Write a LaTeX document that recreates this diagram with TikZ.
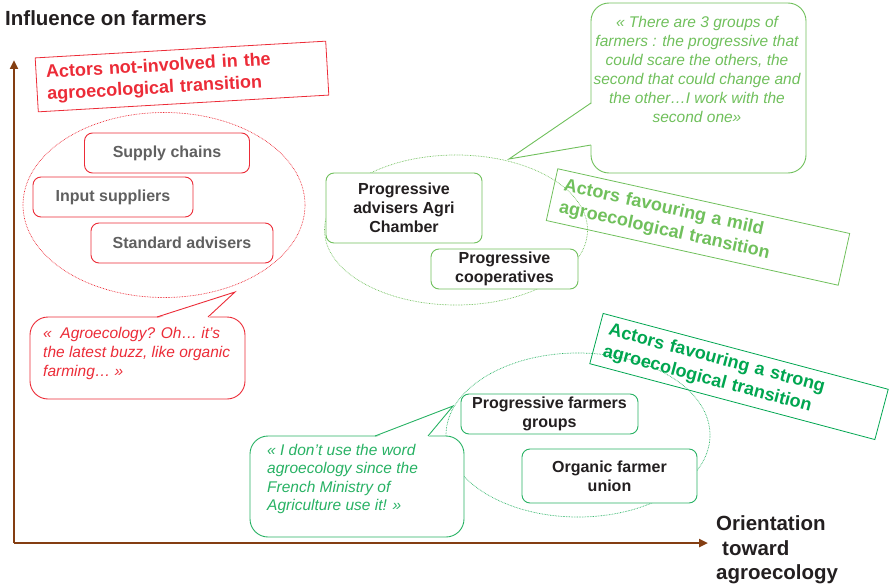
\documentclass[tikz,border=0pt]{standalone}
\usepackage{fontspec}
\setmainfont{Liberation Sans}
\usetikzlibrary{shapes.geometric,arrows.meta}
\definecolor{axisbrown}{RGB}{132,62,18}
\definecolor{redc}{RGB}{236,44,56}
\definecolor{grayt}{RGB}{96,96,96}
\definecolor{lgreen}{RGB}{112,192,92}
\definecolor{sgreen}{RGB}{0,166,80}
\definecolor{bgreen}{RGB}{40,178,100}
\definecolor{darkt}{RGB}{35,31,32}
\tikzset{
  axisline/.style={draw=axisbrown, line width=2.6pt, -{Triangle[length=9pt,width=8pt]}},
  axislabel/.style={font=\bfseries\fontsize{20.5}{24}\selectfont, text=darkt, inner sep=0pt},
  groupbox/.style={draw, line width=0.8pt, align=left, font=\bfseries\fontsize{18}{22}\selectfont, inner xsep=10pt, inner ysep=0pt},
  actor/.style={draw, fill=white, rounded corners=8pt, line width=0.9pt, align=center, font=\bfseries\fontsize{16}{19}\selectfont, inner sep=0pt},
  redactor/.style={actor, draw=redc, text=grayt},
  greenactor/.style={actor, draw=lgreen, text=darkt},
  strongactor/.style={actor, draw=bgreen, text=darkt},
  region/.style={ellipse, draw, line width=0.7pt, dash pattern=on 0.7pt off 0.9pt, inner sep=0pt},
  bubble/.style={draw, fill=white, rounded corners=18pt, line width=0.9pt, inner sep=0pt},
  quotetext/.style={font=\itshape\fontsize{15.5}{19}\selectfont, inner sep=0pt},
}
\begin{document}
\begin{tikzpicture}[x=1pt,y=-1pt]
\useasboundingbox (0,0) rectangle (889,586);

% axes
\coordinate (origin) at (14,543);
\coordinate (ytip) at (14,60);
\coordinate (xtip) at (708,543);
\draw[axisline] (origin) -- (ytip);
\draw[axisline] (origin) -- (xtip);
\node[axislabel, anchor=base west] (ylab) at (5,26) {Influence on farmers};
\node[axislabel, anchor=base west] (xlab1) at (716,530) {Orientation};
\node[axislabel, anchor=base west] (xlab2) at (722,555) {toward};
\node[axislabel, anchor=base west] (xlab3) at (716,579) {agroecology};

% regions
\node[region, draw=redc, minimum width=282, minimum height=185] (regred) at (164,205) {};
\node[region, draw=lgreen, minimum width=263, minimum height=150] (regmild) at (456,230) {};
\node[region, draw=bgreen, minimum width=264, minimum height=164] (regstrong) at (578,435) {};

% group labels
\node[groupbox, draw=redc, text=redc, rotate=3.3, minimum width=291, minimum height=54, text width=271] (gred) at (182,76.5) {Actors not-involved in the\\agroecological transition};
\node[groupbox, draw=lgreen, text=lgreen, rotate=-12.5, minimum width=299, minimum height=53, text width=279] (gmild) at (698,227) {Actors favouring a mild\\agroecological transition};
\node[groupbox, draw=sgreen, text=sgreen, rotate=-14.9, minimum width=295, minimum height=52, text width=275] (gstrong) at (739,376.5) {Actors favouring a strong\\agroecological transition};

% actors
\node[redactor, minimum width=165, minimum height=40] (supply) at (167,153) {Supply chains};
\node[redactor, minimum width=160, minimum height=40] (input) at (113,197) {Input suppliers};
\node[redactor, minimum width=182, minimum height=40] (standard) at (182,243) {Standard advisers};
\node[greenactor, minimum width=156, minimum height=70] (agri) at (404,208) {Progressive\\advisers Agri\\Chamber};
\node[greenactor, minimum width=147, minimum height=40] (coop) at (504.5,269) {Progressive\\cooperatives};
\node[strongactor, minimum width=177, minimum height=40] (farmgroups) at (549.5,414) {Progressive farmers\\groups};
\node[strongactor, minimum width=175, minimum height=54] (organic) at (609.5,476) {Organic farmer\\union};

% quote bubble 1 (top, mild)
\node[bubble, draw=lgreen, minimum width=215, minimum height=170] (q1) at (698.5,88) {};
\coordinate (q1a) at (591,103);
\coordinate (q1b) at (591,145);
\coordinate (q1tip) at (509,159);
\fill[white] ([xshift=1.5pt]q1a) -- (q1tip) -- ([xshift=1.5pt]q1b) -- cycle;
\draw[lgreen, line width=0.9pt] (q1a) -- (q1tip) -- (q1b);
\node[quotetext, text=lgreen, align=center, anchor=north] (q1t) at (697,15.7) {« There are 3 groups of\\farmers : the progressive that\\could scare the others, the\\second that could change and\\the other…I work with the\\second one»};

% quote bubble 2 (red)
\node[bubble, draw=redc, minimum width=215, minimum height=82] (q2) at (137.5,358) {};
\coordinate (q2a) at (157,317);
\coordinate (q2b) at (208,317);
\coordinate (q2tip) at (235,292);
\fill[white] ([yshift=-1.5pt]q2a) -- (q2tip) -- ([yshift=-1.5pt]q2b) -- cycle;
\draw[redc, line width=0.9pt] (q2a) -- (q2tip) -- (q2b);
\node[quotetext, text=redc, align=left, anchor=north west] (q2t) at (43,326.7) {«~~Agroecology? Oh… it’s\\the latest buzz, like organic\\farming… »};

% quote bubble 3 (bottom, strong)
\node[bubble, draw=bgreen, minimum width=214, minimum height=101] (q3) at (357,486.5) {};
\coordinate (q3a) at (375,436);
\coordinate (q3b) at (428,436);
\coordinate (q3tip) at (453,406);
\fill[white] ([yshift=-1.5pt]q3a) -- (q3tip) -- ([yshift=-1.5pt]q3b) -- cycle;
\draw[bgreen, line width=0.9pt] (q3a) -- (q3tip) -- (q3b);
\node[quotetext, text=bgreen, align=left, anchor=north west, font=\itshape\fontsize{15.5}{18.5}\selectfont] (q3t) at (267,443.7) {« I don’t use the word\\agroecology since the\\French Ministry of\\Agriculture use it! »};
\end{tikzpicture}
\end{document}
